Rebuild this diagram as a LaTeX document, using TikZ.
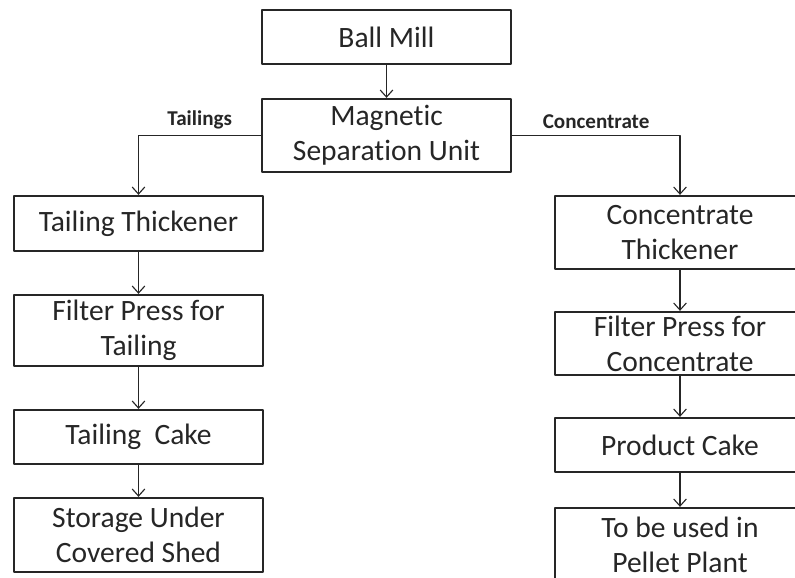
\documentclass[tikz,border=0pt]{standalone}
\usepackage{fontspec}
\setmainfont[Ligatures=NoCommon]{Carlito}
\usetikzlibrary{arrows.meta}
\definecolor{inkgray}{HTML}{262626}
\tikzset{
	unitbox/.style={draw=inkgray, line width=1.6pt, fill=white, text=inkgray,
		minimum width=6.225cm, align=center, inner sep=0pt,
		font=\fontsize{21}{25}\selectfont},
	flowlabel/.style={text=inkgray, font=\fontsize{15}{18}\selectfont\bfseries},
}
\begin{document}
\begin{tikzpicture}[
	x=0.025cm,
	y=-0.025cm,
	line join=round,
	>={Straight Barb[length=5pt,width=9pt]},
	]
\useasboundingbox (0,0) rectangle (795,578);
% centre
\node[unitbox, minimum height=1.35cm] (mill) at (386.5,37) {Ball Mill};
\node[unitbox, minimum height=1.825cm] (msu) at (386.5,135.5) {Magnetic\\Separation Unit};
% tailings side
\node[unitbox, minimum height=1.375cm] (tthick) at (138.5,223.5) {Tailing Thickener};
\node[unitbox, minimum height=1.775cm] (tpress) at (138.5,330.5) {Filter Press for\\Tailing};
\node[unitbox, minimum height=1.35cm] (tcake) at (138.5,437) {Tailing~~Cake};
\node[unitbox, minimum height=1.85cm] (tstore) at (138.5,535) {Storage Under\\Covered Shed};
% concentrate side
\node[unitbox, minimum width=6.25cm, minimum height=1.825cm] (cthick) at (680,232.5) {Concentrate\\Thickener};
\node[unitbox, minimum width=6.25cm, minimum height=1.575cm] (cpress) at (680,343.5) {Filter Press for\\Concentrate};
\node[unitbox, minimum width=6.25cm, minimum height=1.35cm] (pcake) at (680,445) {Product Cake};
\node[unitbox, minimum width=6.25cm, minimum height=1.85cm] (pellet) at (680,545) {To be used in\\Pellet Plant};
% connectors
\begin{scope}[draw=inkgray, line width=0.8pt]
\draw[->] (mill) -- (msu);
\draw[->] (msu.west) -| node[flowlabel, above, pos=0.25, yshift=1pt] {Tailings} (tthick.north);
\draw[->] (msu.east) -| node[flowlabel, above, pos=0.25, yshift=1pt] {Concentrate} (cthick.north);
\foreach \a/\b in {tthick/tpress, tpress/tcake, tcake/tstore, cthick/cpress, cpress/pcake, pcake/pellet}
	\draw[->] (\a) -- (\b);
\end{scope}
\end{tikzpicture}
\end{document}
